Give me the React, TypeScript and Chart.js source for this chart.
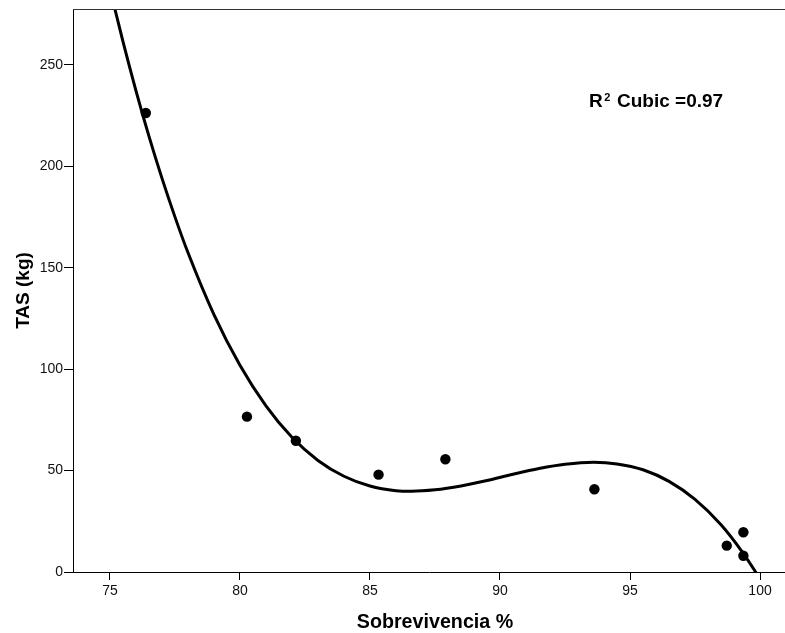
import React, { useEffect, useRef } from "react";
import { Chart, registerables } from "chart.js";

Chart.register(...registerables);

// Observed data (Sobrevivencia %, TAS kg)
const sobrevivencia = [76.38, 80.27, 82.15, 85.33, 87.9, 93.63, 98.72, 99.36, 99.36];
const tas = [226.3, 76.6, 64.7, 48.0, 55.6, 40.8, 13.0, 19.6, 8.0];

// Cubic fit line
const fitX = [75.0, 75.5, 76.0, 76.5, 77.0, 77.5, 78.0, 79.0, 80.0, 81.0, 82.0, 83.0, 84.0, 85.0, 86.0, 86.6, 87.5, 88.5, 89.5, 90.5, 91.5, 92.5, 93.6, 94.5, 95.5, 96.5, 97.5, 98.5, 99.3, 99.8, 100.0];
const fitY = [287.6, 261.6, 237.4, 214.9, 194.2, 175.1, 157.5, 126.9, 101.9, 81.9, 66.4, 55.0, 47.2, 42.4, 40.1, 39.8, 40.5, 42.4, 45.1, 48.2, 51.0, 53.1, 54.1, 53.3, 50.4, 44.7, 35.8, 23.3, 10.2, 0.6, -3.6];

const xTicks = [75, 80, 85, 90, 95, 100];
const yTicks = [0, 50, 100, 150, 200, 250];

const xTitle = "Sobrevivencia %";
const yTitle = "TAS (kg)";
const annoR = "R";
const annoSup = "2";
const annoRest = " Cubic =0.97";
const annoX = 93.42;
const annoY = 229.1;

const FONT = '"Liberation Sans", Arial, Helvetica, sans-serif';

export default function App() {
  const ref = useRef<HTMLCanvasElement | null>(null);

  useEffect(() => {
    if (!ref.current) return;
    const overlay = {
      id: "overlay",
      afterDatasetsDraw(chart: any) {
        const { ctx, chartArea, scales } = chart;
        const x = scales.x;
        const y = scales.y;
        ctx.save();
        ctx.strokeStyle = "#333";
        ctx.lineWidth = 1;
        ctx.beginPath();
        ctx.moveTo(chartArea.left, Math.round(chartArea.top) + 0.5);
        ctx.lineTo(chartArea.right, Math.round(chartArea.top) + 0.5);
        ctx.stroke();

        // annotation
        const px = x.getPixelForValue(annoX);
        const py = y.getPixelForValue(annoY);
        ctx.fillStyle = "#000";
        ctx.textAlign = "left";
        ctx.textBaseline = "alphabetic";
        ctx.font = `bold 19px ${FONT}`;
        ctx.fillText(annoR, px, py);
        const wR = ctx.measureText(annoR).width;
        ctx.font = `bold 11px ${FONT}`;
        ctx.fillText(annoSup, px + wR + 1.5, py - 6.5);
        const w2 = ctx.measureText(annoSup).width;
        ctx.font = `bold 19px ${FONT}`;
        ctx.fillText(annoRest, px + wR + 1.5 + w2 + 1.5, py);

        // x axis title
        ctx.font = `bold 19.7px ${FONT}`;
        ctx.textAlign = "center";
        ctx.textBaseline = "alphabetic";
        ctx.fillText(xTitle, (chartArea.left + chartArea.right) / 2 + 6, 628);
        ctx.restore();
      },
    };

    const chart = new Chart(ref.current, {
      type: "scatter",
      data: {
        datasets: [
          {
            label: "Observed",
            data: sobrevivencia.map((v, i) => ({ x: v, y: tas[i] })),
            backgroundColor: "#000",
            borderColor: "#000",
            pointRadius: 5.2,
            pointHoverRadius: 5.2,
            borderWidth: 0,
            showLine: false,
            clip: false as any,
          },
          {
            label: "Cubic",
            data: fitX.map((v, i) => ({ x: v, y: fitY[i] })),
            showLine: true,
            borderColor: "#000",
            borderWidth: 3,
            pointRadius: 0,
            pointHoverRadius: 0,
            cubicInterpolationMode: "monotone",
            fill: false,
            clip: 0 as any,
          },
        ],
      },
      options: {
        responsive: false,
        animation: false,
        devicePixelRatio: 1,
        layout: { autoPadding: false, padding: { top: 9, right: 0, left: 0, bottom: 0 } },
        plugins: {
          legend: { display: false },
          tooltip: { enabled: false },
        },
        scales: {
          x: {
            type: "linear",
            min: 73.58,
            max: 100.96,
            afterBuildTicks: (s: any) => {
              s.ticks = xTicks.map((v) => ({ value: v }));
            },
            afterFit: (s: any) => {
              s.height = 61;
              s.paddingRight = 0;
              s.paddingLeft = 0;
            },
            grid: {
              drawOnChartArea: false,
              drawTicks: true,
              tickLength: 8,
              color: "#000",
              lineWidth: 1,
            },
            border: { display: true, color: "#000", width: 1 },
            ticks: {
              padding: 3,
              color: "#111",
              font: { family: FONT, size: 14 },
              maxRotation: 0,
            },
            title: { display: false },
          },
          y: {
            type: "linear",
            min: 0,
            max: 277.6,
            afterBuildTicks: (s: any) => {
              s.ticks = yTicks.map((v) => ({ value: v }));
            },
            afterFit: (s: any) => {
              s.width = 73;
              s.paddingTop = 0;
              s.paddingBottom = 0;
            },
            grid: {
              drawOnChartArea: false,
              drawTicks: true,
              tickLength: 9,
              color: "#000",
              lineWidth: 1,
            },
            border: { display: true, color: "#000", width: 1 },
            ticks: {
              padding: 1,
              color: "#111",
              font: { family: FONT, size: 14 },
            },
            title: {
              display: true,
              text: yTitle,
              color: "#000",
              font: { family: FONT, size: 19, weight: "bold" },
              padding: { top: 12, bottom: 0 },
            },
          },
        },
      },
      plugins: [overlay],
    });
    return () => chart.destroy();
  }, []);

  return (
    <div style={{ position: "absolute", left: 0, top: 0, width: 785, height: 633, background: "#fff" }}>
      <canvas ref={ref} width={785} height={633} style={{ display: "block" }} />
    </div>
  );
}
